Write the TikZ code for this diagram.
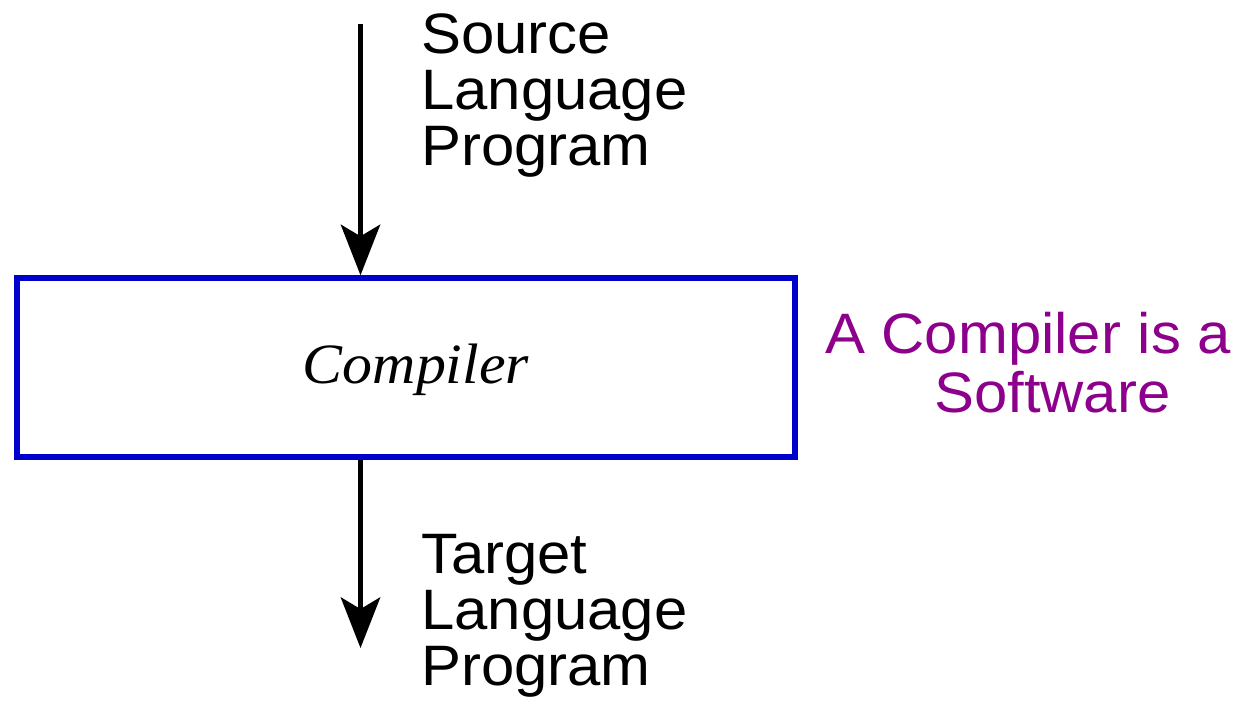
\documentclass[tikz,border=0pt]{standalone}
\usepackage{fontspec}
\setmainfont[FakeStretch=1.05]{Liberation Serif}
\setsansfont[FakeStretch=1.05]{Liberation Sans}
\usetikzlibrary{arrows.meta}
\definecolor{boxblue}{RGB}{0,0,204}
\definecolor{notepurple}{RGB}{140,0,140}
\tikzset{
  flow/.style={line width=5.5pt,
    -{Stealth[length=51pt,width=40pt,inset=12pt,line width=0pt]}},
  compbox/.style={draw=boxblue, line width=5.5pt, rectangle,
    minimum width=778pt, minimum height=179pt, inner sep=0pt},
  caption/.style={font=\sffamily\fontsize{57}{56}\selectfont,
    align=left, inner sep=0pt},
  note/.style={font=\sffamily\fontsize{57}{59}\selectfont,
    text=notepurple, inner sep=0pt},
}
\begin{document}
\begin{tikzpicture}[x=1pt,y=-1pt]
  \useasboundingbox (0,0) rectangle (1236,702);
  % compiler box
  \node[compbox] (box) at (406,367.5) {};
  \node[font=\itshape\fontsize{57}{57}\selectfont, inner sep=0pt,
        anchor=base] (name) at (416,383) {Compiler};
  % input and output
  \coordinate (src) at (360.5,24);
  \coordinate (tgt) at (360.5,648);
  \draw[flow] (src) -- (box.north -| src);
  \draw[flow] (box.south -| src) -- (tgt);
  % labels
  \node[caption, anchor=north west] (srclabel) at (421,13)
    {Source\\Language\\Program};
  \node[caption, anchor=north west] (tgtlabel) at (421,534)
    {Target\\Language\\Program};
  % side note
  \node[note, anchor=base west] (note1) at (825,353) {A Compiler is a};
  \node[note, anchor=base west] (note2) at (934,412) {Software};
\end{tikzpicture}
\end{document}
